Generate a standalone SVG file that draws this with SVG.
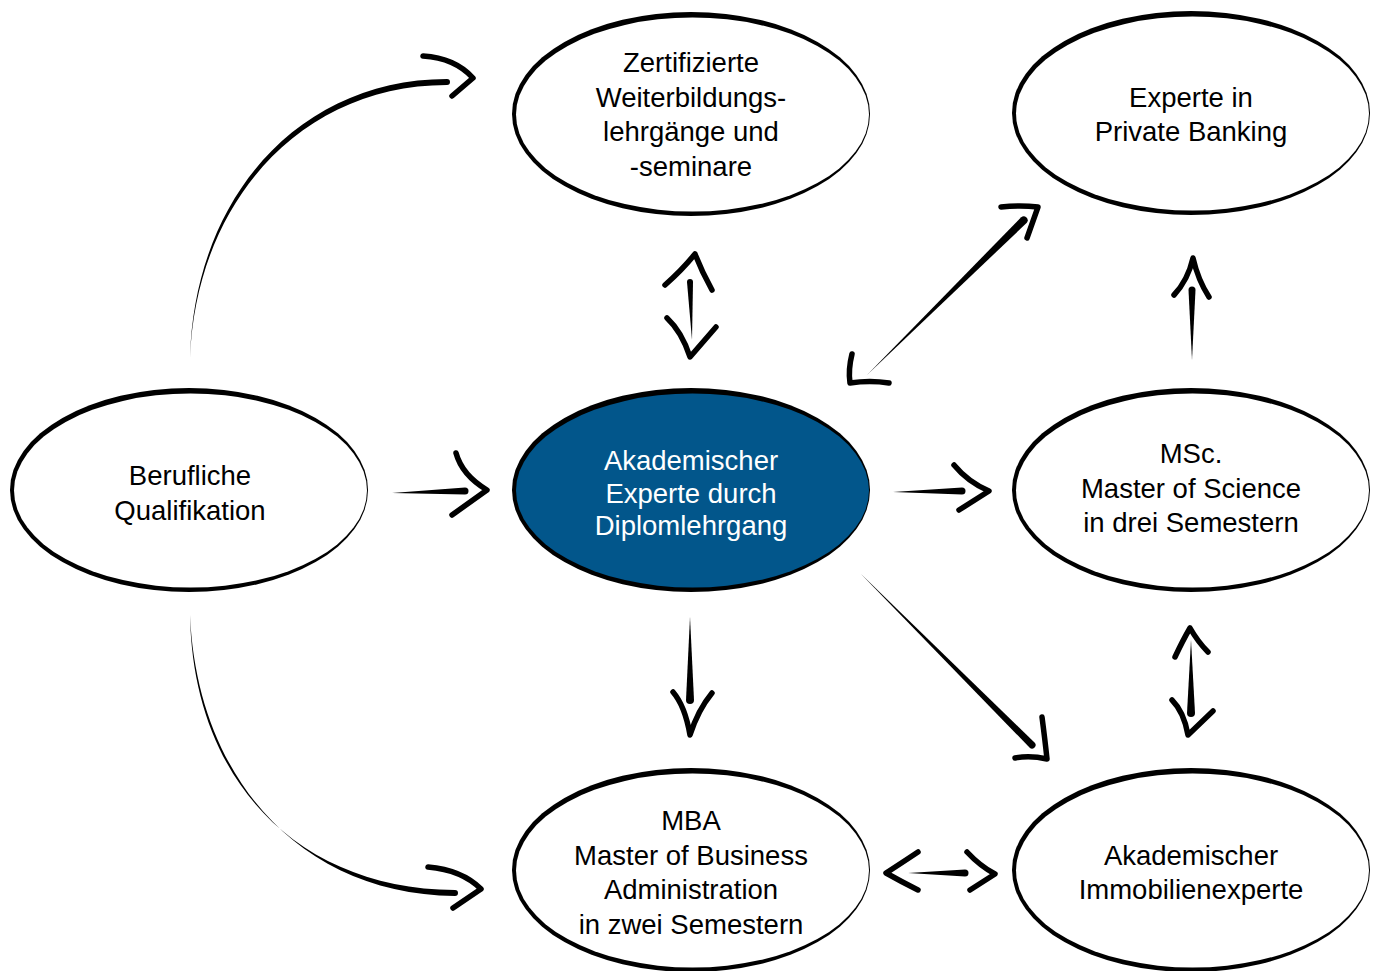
<svg xmlns="http://www.w3.org/2000/svg" width="1382" height="971" viewBox="0 0 1382 971">
<defs>
<style>
.rim{fill:#000}
.face{fill:#fff}
.blue{fill:#02568b}
.lbl{font-family:"Liberation Sans",Arial,sans-serif;font-size:27.5px;fill:#000;text-anchor:middle}
.wl{fill:#fff}
.shaft{fill:#000}
.head{fill:none;stroke:#000;stroke-width:5.5;stroke-linecap:round;stroke-linejoin:round}
</style>
</defs>
<rect width="1382" height="971" fill="#fff"/>
<g id="connectors">
<!-- Berufliche -> Zertifizierte -->
<path class="shaft" d="M190,358 C194,198 299,79 447,79 A3,3 0 0 1 447,85 C301,85 196,202 190,358 Z"/>
<path class="head" d="M423,56 Q455,58 473,78 L452,96"/>
<!-- Berufliche -> MBA -->
<path class="shaft" d="M190,615 C193,782 299,889 455,890 A3,3 0 0 1 455,896 C301,895 197,778 190,615 Z"/>
<path class="head" d="M428,867 Q462,870 481,889 L453,908"/>
<!-- Berufliche -> Akademischer -->
<path class="shaft" d="M392,493 L465,487.5 A3.5,3.5 0 0 1 465,494.5 Z"/>
<path class="head" d="M456,453 Q462,475 487,490 L452,515"/>
<!-- Akademischer -> MSc -->
<path class="shaft" d="M893,492 L962,487.5 A3.5,3.5 0 0 1 962,494.5 Z"/>
<path class="head" d="M954,465 Q968,482 989,491 L959,510"/>
<!-- Zertifizierte <-> Akademischer -->
<path class="shaft" d="M687,282 A3,3 0 0 1 693,282 L692,340 Z"/>
<path class="head" d="M665,285 Q682,270 695,254 Q702,272 712,290"/>
<path class="head" d="M667,318 Q682,332 690,357 L716,327"/>
<!-- Akademischer <-> Private Banking -->
<path class="shaft" d="M867,375 L1026.8,222.8 A4,4 0 0 0 1021.2,217.2 Z"/>
<path class="head" d="M1001,207 Q1020,205 1038,207 L1027,238"/>
<path class="head" d="M852,354 Q848,370 850,383 Q870,380 889,383"/>
<!-- MSc -> Private Banking -->
<path class="shaft" d="M1188.5,290 A3.5,3.5 0 0 1 1195.5,290 L1192,360 Z"/>
<path class="head" d="M1174,295 Q1188,280 1193,258 Q1198,280 1209,297"/>
<!-- MSc <-> Immobilien -->
<path class="shaft" d="M1191,640 L1195,713 A4,4 0 0 1 1187,713 Z"/>
<path class="head" d="M1175,657 Q1183,640 1190,628 Q1198,642 1208,652"/>
<path class="head" d="M1172,700 Q1184,712 1188,735 L1213,711"/>
<!-- Akademischer -> MBA -->
<path class="shaft" d="M690,617 L694,700 A4,4 0 0 1 686,700 Z"/>
<path class="head" d="M673,692 Q685,706 690,735 Q698,710 712,693"/>
<!-- Akademischer -> Immobilien -->
<path class="shaft" d="M860,573 L1034.5,742.5 A3.5,3.5 0 0 1 1029.5,747.5 Z"/>
<path class="head" d="M1042,717 Q1045,740 1047,759 Q1030,755 1015,758"/>
<!-- MBA <-> Immobilien -->
<path class="shaft" d="M908,873 L965,869.5 A3.5,3.5 0 0 1 965,876.5 Z"/>
<path class="head" d="M918,852 Q900,864 886,873 Q902,882 918,890"/>
<path class="head" d="M967,852 Q980,866 995,874 L970,890"/>
</g>
<g id="n-zertifizierte">
<ellipse class="rim" cx="691" cy="114" rx="179" ry="102"/>
<ellipse class="face" cx="692.5" cy="114.5" rx="176.5" ry="97"/>
<text class="lbl" x="691" y="72">Zertifizierte</text>
<text class="lbl" x="691" y="107">Weiterbildungs-</text>
<text class="lbl" x="691" y="141">lehrgänge und</text>
<text class="lbl" x="691" y="176">-seminare</text>
</g>
<g id="n-privatebanking">
<ellipse class="rim" cx="1191" cy="113" rx="179" ry="102"/>
<ellipse class="face" cx="1192.5" cy="113.5" rx="176.5" ry="97"/>
<text class="lbl" x="1191" y="107">Experte in</text>
<text class="lbl" x="1191" y="141">Private Banking</text>
</g>
<g id="n-berufliche">
<ellipse class="rim" cx="189" cy="490" rx="179" ry="102"/>
<ellipse class="face" cx="190.5" cy="490.5" rx="176.5" ry="97"/>
<text class="lbl" x="190" y="485">Berufliche</text>
<text class="lbl" x="190" y="520">Qualifikation</text>
</g>
<g id="n-akademischer">
<ellipse class="rim" cx="691" cy="490" rx="179" ry="102"/>
<ellipse class="blue" cx="692.5" cy="490.5" rx="176.5" ry="97"/>
<text class="lbl wl" x="691" y="470">Akademischer</text>
<text class="lbl wl" x="691" y="503">Experte durch</text>
<text class="lbl wl" x="691" y="535">Diplomlehrgang</text>
</g>
<g id="n-msc">
<ellipse class="rim" cx="1191" cy="490" rx="179" ry="102"/>
<ellipse class="face" cx="1192.5" cy="490.5" rx="176.5" ry="97"/>
<text class="lbl" x="1191" y="463">MSc.</text>
<text class="lbl" x="1191" y="498">Master of Science</text>
<text class="lbl" x="1191" y="532">in drei Semestern</text>
</g>
<g id="n-mba">
<ellipse class="rim" cx="691" cy="870" rx="179" ry="102"/>
<ellipse class="face" cx="692.5" cy="870.5" rx="176.5" ry="97"/>
<text class="lbl" x="691" y="830">MBA</text>
<text class="lbl" x="691" y="865">Master of Business</text>
<text class="lbl" x="691" y="899">Administration</text>
<text class="lbl" x="691" y="934">in zwei Semestern</text>
</g>
<g id="n-immobilien">
<ellipse class="rim" cx="1191" cy="870" rx="179" ry="102"/>
<ellipse class="face" cx="1192.5" cy="870.5" rx="176.5" ry="97"/>
<text class="lbl" x="1191" y="865">Akademischer</text>
<text class="lbl" x="1191" y="899">Immobilienexperte</text>
</g>
</svg>
